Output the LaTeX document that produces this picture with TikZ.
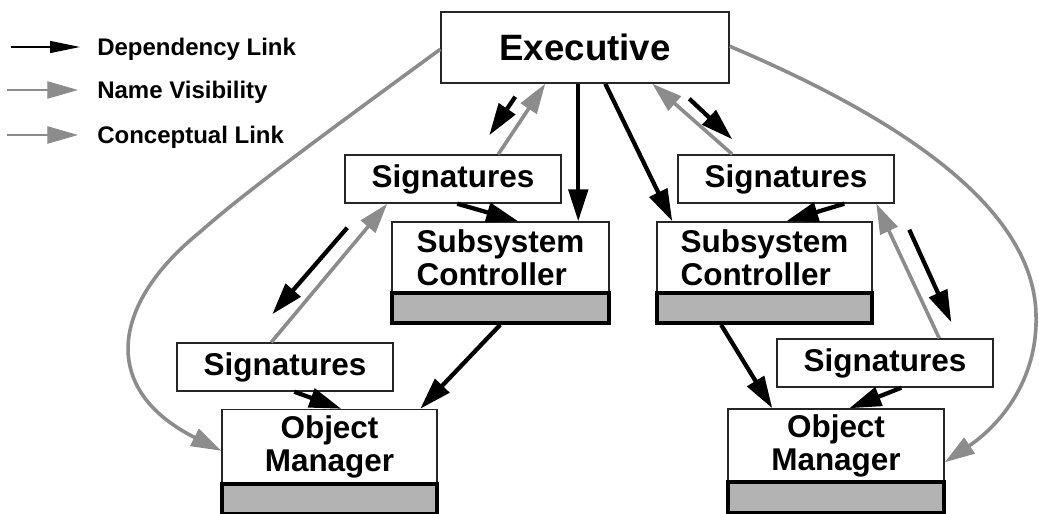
\documentclass[tikz,border=0pt]{standalone}
\usepackage{fontspec}
\setmainfont{Liberation Sans}
\usetikzlibrary{arrows.meta,calc}
\definecolor{linkgray}{HTML}{8C8C8C}
\definecolor{barfill}{HTML}{B3B3B3}
\begin{document}
\begin{tikzpicture}[x=0.75pt,y=-0.75pt,
  box/.style={draw=black!85,line width=1.1pt,fill=white,inner sep=0pt,
    font=\bfseries\fontsize{23.6pt}{24.75pt}\selectfont},
  bar/.style={draw=black,line width=2.8pt,fill=barfill,inner sep=0pt},
  dep/.style={draw=black,line width=3.2pt,-{Triangle[length=24pt,width=14.5pt]}},
  vis/.style={draw=linkgray,line width=2.7pt,-{Triangle[length=22.5pt,width=14pt]}},
  legdep/.style={draw=black,line width=0.9pt,-{Triangle[length=22.5pt,width=9pt]}},
  legvis/.style={draw=linkgray,line width=0.9pt,-{Triangle[length=23pt,width=13pt]}},
  legtext/.style={anchor=base west,inner sep=0pt,font=\bfseries\fontsize{18pt}{20pt}\selectfont}
]
\useasboundingbox (0,0) rectangle (1039,514);
\clip (0,0) rectangle (1039,514);

% legend
\coordinate (la1) at (11,47);  \coordinate (lb1) at (80,47);
\coordinate (la2) at (7,90);   \coordinate (lb2) at (78,90);
\coordinate (la3) at (7,135);  \coordinate (lb3) at (78,135);
\draw[legdep] (la1) -- (lb1);
\draw[legvis] (la2) -- (lb2);
\draw[legvis] (la3) -- (lb3);
\node[legtext] (t1) at (97,55.5) {Dependency Link};
\node[legtext] (t2) at (97,98.5) {Name Visibility};
\node[legtext] (t3) at (97,143.5) {Conceptual Link};

% boxes
\node[box,minimum width=216pt,minimum height=53.25pt,
  font=\bfseries\fontsize{27.5pt}{30pt}\selectfont] (exec) at (585,47.5) {Executive};
\node[box,minimum width=162pt,minimum height=36pt] (sigL) at (453,179) {Signatures};
\node[box,minimum width=162pt,minimum height=36pt] (sigR) at (786,179) {Signatures};
\node[box,minimum width=162pt,minimum height=36pt] (sigLL) at (285,367) {Signatures};
\node[box,minimum width=162pt,minimum height=36pt] (sigRL) at (885,363) {Signatures};

\node[box,minimum width=162.75pt,minimum height=53.25pt,align=left] (scL) at (500.5,257.5) {Subsystem\\Controller};
\node[bar,minimum width=162.75pt,minimum height=22.5pt] (scLbar) at (500.5,308) {};
\node[box,minimum width=161.25pt,minimum height=53.25pt,align=left] (scR) at (764.5,257.5) {Subsystem\\Controller};
\node[bar,minimum width=161.25pt,minimum height=22.5pt] (scRbar) at (764.5,308) {};

\node[box,minimum width=161.25pt,minimum height=55.5pt,align=center] (omL) at (329.5,446.5) {Object\\Manager};
\node[bar,minimum width=161.25pt,minimum height=22.5pt] (omLbar) at (329.5,499) {};
\node[box,minimum width=162pt,minimum height=54.75pt,align=center] (omR) at (836,445.5) {Object\\Manager};
\node[bar,minimum width=162pt,minimum height=23.25pt] (omRbar) at (836,497.5) {};

% free ends of the floating arrows
\coordinate (e1a) at ($(exec.south west)+(75,13)$);
\coordinate (e1b) at ($(sigL.north west)+(145,-19)$);
\coordinate (e2a) at ($(exec.south west)+(249,15)$);
\coordinate (e2b) at ($(sigR.north west)+(55,-15)$);
\coordinate (s1a) at ($(sigL.south west)+(3,24)$);
\coordinate (s1b) at ($(sigLL.north west)+(96,-28)$);
\coordinate (s2a) at ($(sigR.south west)+(232,26)$);
\coordinate (s2b) at ($(sigRL.north west)+(175,-16)$);

% dependency links
\draw[dep] ($(exec.south west)+(138,0)$) -- ($(scL.north west)+(187,0)$);
\draw[dep] ($(exec.south west)+(165,0)$) -- ($(scR.north west)+(16,0)$);
\draw[dep] (e1a) -- (e1b);
\draw[dep] (e2a) -- (e2b);
\draw[dep] ($(sigL.south west)+(113,0)$) -- ($(scL.north west)+(127,0)$);
\draw[dep] ($(sigR.south west)+(167,0)$) -- ($(scR.north west)+(130,0)$);
\draw[dep] (s1a) -- (s1b);
\draw[dep] (s2a) -- (s2b);
\draw[dep] ($(sigLL.south west)+(118,0)$) -- ($(omL.north west)+(120,0)$);
\draw[dep] ($(sigRL.south west)+(125,0)$) -- ($(omR.north west)+(122,0)$);
\draw[dep] ($(scLbar.south west)+(110,0)$) -- ($(omL.north west)+(199,0)$);
\draw[dep] ($(scRbar.south west)+(66,0)$) -- ($(omR.north west)+(45,0)$);

% name visibility
\draw[vis] ($(sigL.north west)+(154,0)$) -- ($(exec.south west)+(105,0)$);
\draw[vis] ($(sigR.north west)+(55,0)$) -- ($(exec.south west)+(212,0)$);
\draw[vis] ($(sigLL.north west)+(95,0)$) -- ($(sigL.south west)+(43,0)$);
\draw[vis] ($(sigRL.north west)+(163,0)$) -- ($(sigR.south west)+(199,0)$);

% conceptual links
\draw[vis] ($(exec.north west)+(0,38)$) .. controls (330,130) and (245,192) .. (200,232)
  .. controls (110,305) and (100,390) .. ($(omL.north west)+(0,42)$);
\draw[vis] ($(exec.north east)+(0,35)$) .. controls (880,110) and (1034,200) .. (1036,315)
  .. controls (1038,380) and (1000,425) .. ($(omR.north east)+(0,54)$);
\end{tikzpicture}
\end{document}
